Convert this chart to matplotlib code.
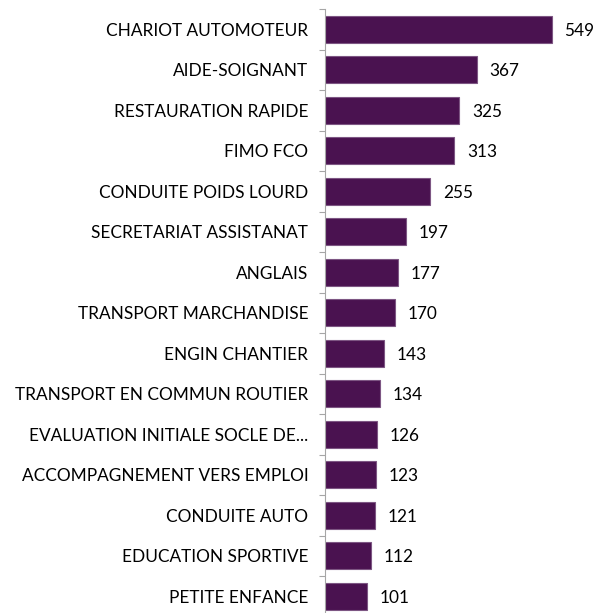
import matplotlib
matplotlib.use("Agg")
import matplotlib.pyplot as plt
import numpy as np

# data
categories = [
    "CHARIOT AUTOMOTEUR",
    "AIDE-SOIGNANT",
    "RESTAURATION RAPIDE",
    "FIMO FCO",
    "CONDUITE POIDS LOURD",
    "SECRETARIAT ASSISTANAT",
    "ANGLAIS",
    "TRANSPORT MARCHANDISE",
    "ENGIN CHANTIER",
    "TRANSPORT EN COMMUN ROUTIER",
    "EVALUATION INITIALE SOCLE DE...",
    "ACCOMPAGNEMENT VERS EMPLOI",
    "CONDUITE AUTO",
    "EDUCATION SPORTIVE",
    "PETITE ENFANCE",
]
values = [549, 367, 325, 313, 255, 197, 177, 170, 143, 134, 126, 123, 121, 112, 101]

plt.rcParams['font.family'] = ['Lato', 'DejaVu Sans']
FS = 12.4

fig = plt.figure(figsize=(6.03, 6.13), dpi=100)
# axes placed in figure fraction; bottom slightly cut off as in the reference
ax = fig.add_axes([325 / 603, 1 - 616.5 / 613, 1 - 325 / 603, 607.5 / 613])

y = np.arange(len(categories))
ax.barh(y, values, height=0.66, color="#4a1250", edgecolor="#7d5683", linewidth=0.8)

for yi, v in zip(y, values):
    ax.annotate(str(v), (v, yi), xytext=(9, -1), textcoords="offset points",
                va="center", ha="left", fontsize=FS, color="black")

ax.set_ylim(len(categories) - 0.5, -0.5)
ax.set_xlim(0, (603 - 325) / 0.4135)

ax.set_yticks(y)
ax.set_yticklabels(categories, fontsize=FS)
ax.tick_params(axis="y", which="major", length=0, pad=12)
ax.set_yticks(np.arange(-0.5, len(categories), 1), minor=True)
ax.tick_params(axis="y", which="minor", length=4, color="#a6a6a6", width=0.8)

ax.set_xticks([])
for side in ["top", "right", "bottom"]:
    ax.spines[side].set_visible(False)
ax.spines["left"].set_color("#a6a6a6")
ax.spines["left"].set_linewidth(0.8)

fig.savefig("out.png", dpi=100)
